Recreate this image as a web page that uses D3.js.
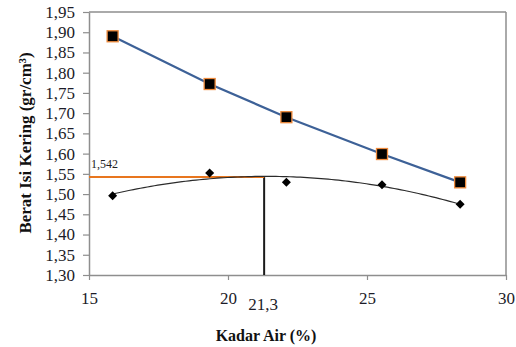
<!DOCTYPE html>
<html>
<head>
<meta charset="utf-8">
<script src="https://cdn.jsdelivr.net/npm/d3@7"></script>
<style>
  html, body { margin: 0; padding: 0; background: #fff; }
  svg { display: block; font-family: "Liberation Serif", "Times New Roman", serif; }
</style>
</head>
<body>
<svg id="chart" width="516" height="347"></svg>
<script>
// Data
const kadarAir = [15.85, 19.34, 22.1, 25.54, 28.35];
const seriesSquares = [1.890, 1.772, 1.690, 1.599, 1.529];
const seriesDiamonds = [1.496, 1.552, 1.529, 1.523, 1.475];
const xTicks = [15, 20, 25, 30];
const yTicks = [1.30, 1.35, 1.40, 1.45, 1.50, 1.55, 1.60, 1.65, 1.70, 1.75, 1.80, 1.85, 1.90, 1.95];
const optimumX = 21.3;
const optimumY = 1.542;
const optimumXLabel = "21,3";
const optimumYLabel = "1,542";
const xTitle = "Kadar Air (%)";
const yTitle = "Berat Isi Kering (gr/cm³)";

const svg = d3.select("#chart");
const m = { left: 89, right: 506, top: 12, bottom: 275 };

const x = d3.scaleLinear().domain([15, 30]).range([m.left, m.right]);
const y = d3.scaleLinear().domain([1.30, 1.95]).range([m.bottom, m.top]);

const comma = v => d3.format(".2f")(v).replace(".", ",");
const axisColor = "#8e8e8e";

// frame (top & right)
svg.append("line").attr("x1", m.left).attr("x2", m.right).attr("y1", m.top).attr("y2", m.top)
  .attr("stroke", axisColor).attr("stroke-width", 1.5);
svg.append("line").attr("x1", m.right).attr("x2", m.right).attr("y1", m.top).attr("y2", m.bottom)
  .attr("stroke", axisColor).attr("stroke-width", 1.5);

// axes
const gx = svg.append("g").attr("transform", `translate(0,${m.bottom})`)
  .call(d3.axisBottom(x).tickValues(xTicks).tickSize(5).tickSizeOuter(0).tickPadding(12).tickFormat(d3.format("d")));
const gy = svg.append("g").attr("transform", `translate(${m.left},0)`)
  .call(d3.axisLeft(y).tickValues(yTicks).tickSize(6).tickSizeOuter(0).tickPadding(8).tickFormat(comma));
[gx, gy].forEach(g => {
  g.attr("font-family", "'Liberation Serif', serif");
  g.select(".domain").attr("stroke", axisColor).attr("stroke-width", 1.5);
  g.selectAll(".tick line").attr("stroke", axisColor).attr("stroke-width", 1.2);
  g.selectAll(".tick text").attr("fill", "#1c1c28").attr("font-size", 17)
    .attr("font-family", "'Liberation Serif', serif");
});

// quadratic least-squares trend of the diamond series
function quadFit(xs, ys) {
  const n = xs.length;
  let s = [0, 0, 0, 0, 0], t = [0, 0, 0];
  for (let i = 0; i < n; i++) {
    let p = 1;
    for (let k = 0; k <= 4; k++) { s[k] += p; if (k <= 2) t[k] += p * ys[i]; p *= xs[i]; }
  }
  const A = [[s[0], s[1], s[2], t[0]], [s[1], s[2], s[3], t[1]], [s[2], s[3], s[4], t[2]]];
  for (let c = 0; c < 3; c++) {
    for (let r = c + 1; r < 3; r++) {
      const f = A[r][c] / A[c][c];
      for (let k = c; k < 4; k++) A[r][k] -= f * A[c][k];
    }
  }
  const sol = [0, 0, 0];
  for (let r = 2; r >= 0; r--) {
    let v = A[r][3];
    for (let k = r + 1; k < 3; k++) v -= A[r][k] * sol[k];
    sol[r] = v / A[r][r];
  }
  return sol;
}
const coef = quadFit(kadarAir, seriesDiamonds);
const x0 = d3.min(kadarAir), x1 = d3.max(kadarAir);
const trendPts = d3.range(0, 101).map(i => {
  const xv = x0 + (x1 - x0) * i / 100;
  return [xv, coef[0] + coef[1] * xv + coef[2] * xv * xv];
});

// optimum guide lines
svg.append("line").attr("x1", x(optimumX)).attr("x2", x(optimumX)).attr("y1", y(optimumY)).attr("y2", m.bottom)
  .attr("stroke", "#1a1a1a").attr("stroke-width", 2);
svg.append("line").attr("x1", m.left).attr("x2", x(optimumX)).attr("y1", y(optimumY)).attr("y2", y(optimumY))
  .attr("stroke", "#e8761e").attr("stroke-width", 2);

// trend curve
svg.append("path").datum(trendPts)
  .attr("d", d3.line().x(d => x(d[0])).y(d => y(d[1])))
  .attr("fill", "none").attr("stroke", "#2b2b2b").attr("stroke-width", 1.2);

// blue series line
const sqData = kadarAir.map((v, i) => [v, seriesSquares[i]]);
svg.append("path").datum(sqData)
  .attr("d", d3.line().x(d => x(d[0])).y(d => y(d[1])))
  .attr("fill", "none").attr("stroke", "#3d6197").attr("stroke-width", 2.2);

// square markers
svg.selectAll(".sq").data(sqData).enter().append("rect")
  .attr("x", d => x(d[0]) - 5.5).attr("y", d => y(d[1]) - 5.5)
  .attr("width", 11).attr("height", 11)
  .attr("fill", "#000").attr("stroke", "#ee8a3c").attr("stroke-width", 1.3);

// diamond markers
const dmData = kadarAir.map((v, i) => [v, seriesDiamonds[i]]);
svg.selectAll(".dm").data(dmData).enter().append("path")
  .attr("d", d3.symbol().type(d3.symbolDiamond2).size(52))
  .attr("transform", d => `translate(${x(d[0])},${y(d[1])})`)
  .attr("fill", "#000");

// annotations
svg.append("text").attr("x", 91).attr("y", 168).attr("font-size", 12).attr("fill", "#222")
  .text(optimumYLabel);
svg.append("text").attr("x", x(optimumX) - 1).attr("y", 310).attr("text-anchor", "middle")
  .attr("font-size", 17).attr("fill", "#1c1c28").text(optimumXLabel);

// titles
svg.append("text").attr("x", 266).attr("y", 341).attr("text-anchor", "middle")
  .attr("font-size", 16).attr("font-weight", "bold").attr("fill", "#111").text(xTitle);
svg.append("text").attr("transform", "translate(31,143) rotate(-90)").attr("text-anchor", "middle")
  .attr("font-size", 17).attr("font-weight", "bold").attr("fill", "#111").text(yTitle);
</script>
</body>
</html>
